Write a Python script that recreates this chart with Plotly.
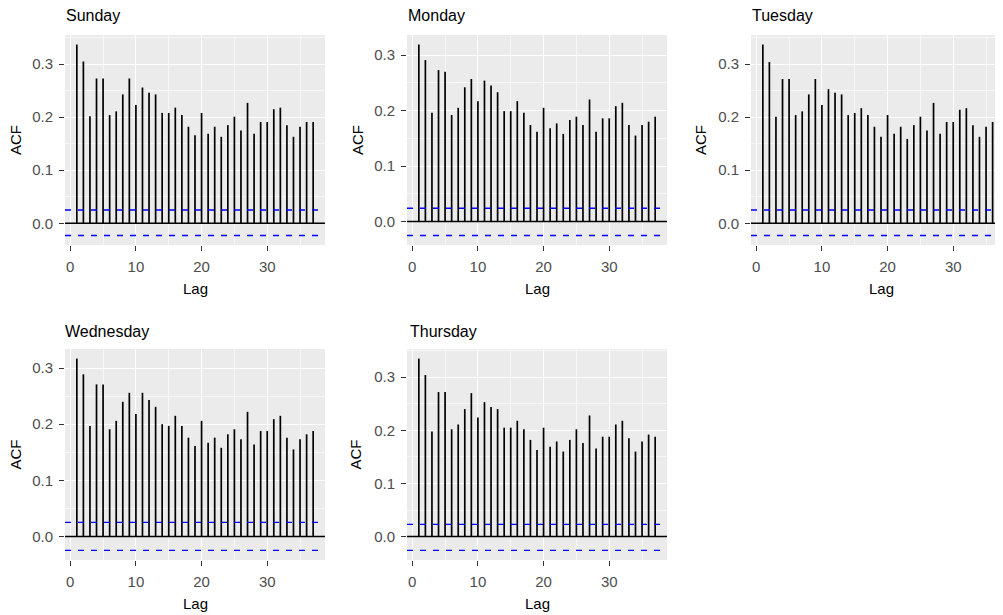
import plotly.graph_objects as go

# The page body adds an 8px margin, so the canvas is shifted by OFF and
# all reference pixel positions are converted by subtracting OFF.
OFF = 8
W, H = 1003 - OFF, 615 - OFF

days = ["Sunday", "Monday", "Tuesday", "Wednesday", "Thursday"]
lags = list(range(1, 38))

sunday_acf = [0.337, 0.305, 0.202, 0.273, 0.273, 0.204, 0.211, 0.243, 0.273, 0.223,
              0.256, 0.246, 0.243, 0.208, 0.208, 0.218, 0.204, 0.182, 0.166, 0.208,
              0.169, 0.182, 0.163, 0.185, 0.201, 0.175, 0.227, 0.169, 0.191, 0.191,
              0.215, 0.218, 0.185, 0.163, 0.182, 0.191, 0.191]
monday_acf = [0.319, 0.291, 0.196, 0.273, 0.270, 0.192, 0.205, 0.242, 0.257, 0.217,
              0.254, 0.245, 0.233, 0.199, 0.199, 0.217, 0.196, 0.174, 0.162, 0.205,
              0.168, 0.177, 0.158, 0.183, 0.189, 0.174, 0.220, 0.162, 0.186, 0.186,
              0.208, 0.214, 0.174, 0.155, 0.174, 0.180, 0.189]
tuesday_acf = [0.337, 0.304, 0.201, 0.272, 0.272, 0.204, 0.211, 0.243, 0.272, 0.223,
               0.253, 0.246, 0.243, 0.204, 0.208, 0.217, 0.204, 0.182, 0.163, 0.204,
               0.169, 0.182, 0.159, 0.185, 0.201, 0.175, 0.227, 0.169, 0.191, 0.191,
               0.214, 0.217, 0.185, 0.163, 0.182, 0.191, 0.191]
wednesday_acf = [0.317, 0.289, 0.197, 0.271, 0.271, 0.191, 0.206, 0.240, 0.256, 0.218,
                 0.256, 0.243, 0.231, 0.200, 0.197, 0.215, 0.197, 0.176, 0.161, 0.206,
                 0.167, 0.176, 0.158, 0.182, 0.191, 0.173, 0.222, 0.164, 0.188, 0.188,
                 0.209, 0.215, 0.176, 0.155, 0.173, 0.182, 0.188]
thursday_acf = [0.335, 0.304, 0.198, 0.272, 0.272, 0.202, 0.211, 0.240, 0.270, 0.224,
                0.253, 0.244, 0.240, 0.205, 0.205, 0.218, 0.202, 0.182, 0.163, 0.205,
                0.169, 0.179, 0.160, 0.182, 0.202, 0.176, 0.228, 0.166, 0.188, 0.188,
                0.211, 0.218, 0.185, 0.160, 0.179, 0.192, 0.188]
ci_upper = [0.025, 0.024, 0.025, 0.025, 0.023]
ci_lower = [-0.023, -0.025, -0.023, -0.025, -0.026]

x_ticks = [0, 10, 20, 30]
y_ticks = [0.0, 0.1, 0.2, 0.3]
y_tick_labels = ["0.0", "0.1", "0.2", "0.3"]

acf_values = [sunday_acf, monday_acf, tuesday_acf, wednesday_acf, thursday_acf]

# panel boxes in reference pixels: (left, right, top, bottom, full_right)
panels = [
    (65, 325, 35, 245, 325),
    (407, 667, 35, 245, 667),
    (751, 1003, 35, 245, 1011),
    (65, 325, 349, 560, 325),
    (407, 667, 349, 560, 667),
]
title_pos = [(64, 16), (406, 16), (750, 16), (63, 331), (408, 331)]
acf_x = [15, 357, 700, 15, 355]


def px(v):
    return (v - OFF) / W


def py(v):
    return 1 - (v - OFF) / H


FONT = "Liberation Sans, Arial, sans-serif"
fig = go.Figure()

xmin_d, xmax_d = min(lags), max(lags)
xpad = 0.05 * (xmax_d - xmin_d)

for i, day in enumerate(days):
    left, right, top, bottom, full_right = panels[i]
    ax = "" if i == 0 else str(i + 1)
    xa, ya = "x" + ax, "y" + ax
    vals = acf_values[i]
    xs, ys = [], []
    for lg, v in zip(lags, vals):
        xs += [lg, lg, None]
        ys += [0, v, None]
    fig.add_trace(go.Scatter(x=xs, y=ys, mode="lines", xaxis=xa, yaxis=ya,
                             line=dict(color="black", width=1.7),
                             showlegend=False, hoverinfo="skip"))
    lo = min(ci_lower[i], 0)
    hi = max(max(vals), ci_upper[i])
    ypad = 0.05 * (hi - lo)
    x0 = xmin_d - xpad
    x1 = xmax_d + xpad
    # clip visible range when the panel is cut by the canvas edge
    x1_vis = x0 + (x1 - x0) * (right - left) / (full_right - left)
    common = dict(showline=False, ticks="outside", ticklen=5, tickwidth=1.1,
                  tickcolor="#333333", tickfont=dict(family=FONT, size=15, color="#4D4D4D"),
                  showgrid=True, gridcolor="white", gridwidth=1.2, zeroline=False,
                  minor=dict(showgrid=True, gridcolor="#F7F7F7", gridwidth=0.6),
                  fixedrange=True)
    fig.layout["xaxis" + ax] = dict(
        domain=[px(left), min(px(right), 1.0)], anchor=ya, range=[x0, x1_vis],
        tickvals=x_ticks, ticktext=[str(t) for t in x_ticks], ticklabelstandoff=3,
        minor_tickvals=[5, 15, 25, 35], **common)
    fig.layout["yaxis" + ax] = dict(
        domain=[py(bottom), py(top)], anchor=xa, range=[lo - ypad, hi + ypad],
        tickvals=y_ticks, ticktext=y_tick_labels, ticklabelstandoff=3,
        minor_tickvals=[-0.05, 0.05, 0.15, 0.25, 0.35], **common)
    fig.add_shape(type="rect", xref=xa + " domain", yref=ya + " domain",
                  x0=0, x1=1, y0=0, y1=1, fillcolor="#EBEBEB", line_width=0, layer="below")
    fig.add_shape(type="line", xref=xa + " domain", yref=ya, x0=0, x1=1, y0=0, y1=0,
                  line=dict(color="black", width=1.5), layer="above")
    for c in (ci_upper[i], ci_lower[i]):
        fig.add_shape(type="line", xref=xa + " domain", yref=ya, x0=0, x1=1, y0=c, y1=c,
                      line=dict(color="blue", width=1.4, dash="6px,7px"), layer="above")
    tx, ty = title_pos[i]
    fig.add_annotation(text=day, x=px(tx), y=py(ty), xref="paper", yref="paper",
                       xanchor="left", yanchor="middle", showarrow=False,
                       font=dict(family=FONT, size=16, color="black"))
    fig.add_annotation(text="ACF", x=px(acf_x[i]), y=py((top + bottom) / 2),
                       xref="paper", yref="paper", textangle=-90, xanchor="center",
                       yanchor="middle", showarrow=False,
                       font=dict(family=FONT, size=15, color="black"))
    fig.add_annotation(text="Lag", x=px((left + full_right) / 2), y=py(bottom + 43),
                       xref="paper", yref="paper", xanchor="center", yanchor="middle",
                       showarrow=False, font=dict(family=FONT, size=15, color="black"))

fig.update_layout(width=W, height=H, margin=dict(l=0, r=0, t=0, b=0),
                  paper_bgcolor="white", plot_bgcolor="rgba(0,0,0,0)",
                  font=dict(family=FONT))

fig.write_html("out.html")
